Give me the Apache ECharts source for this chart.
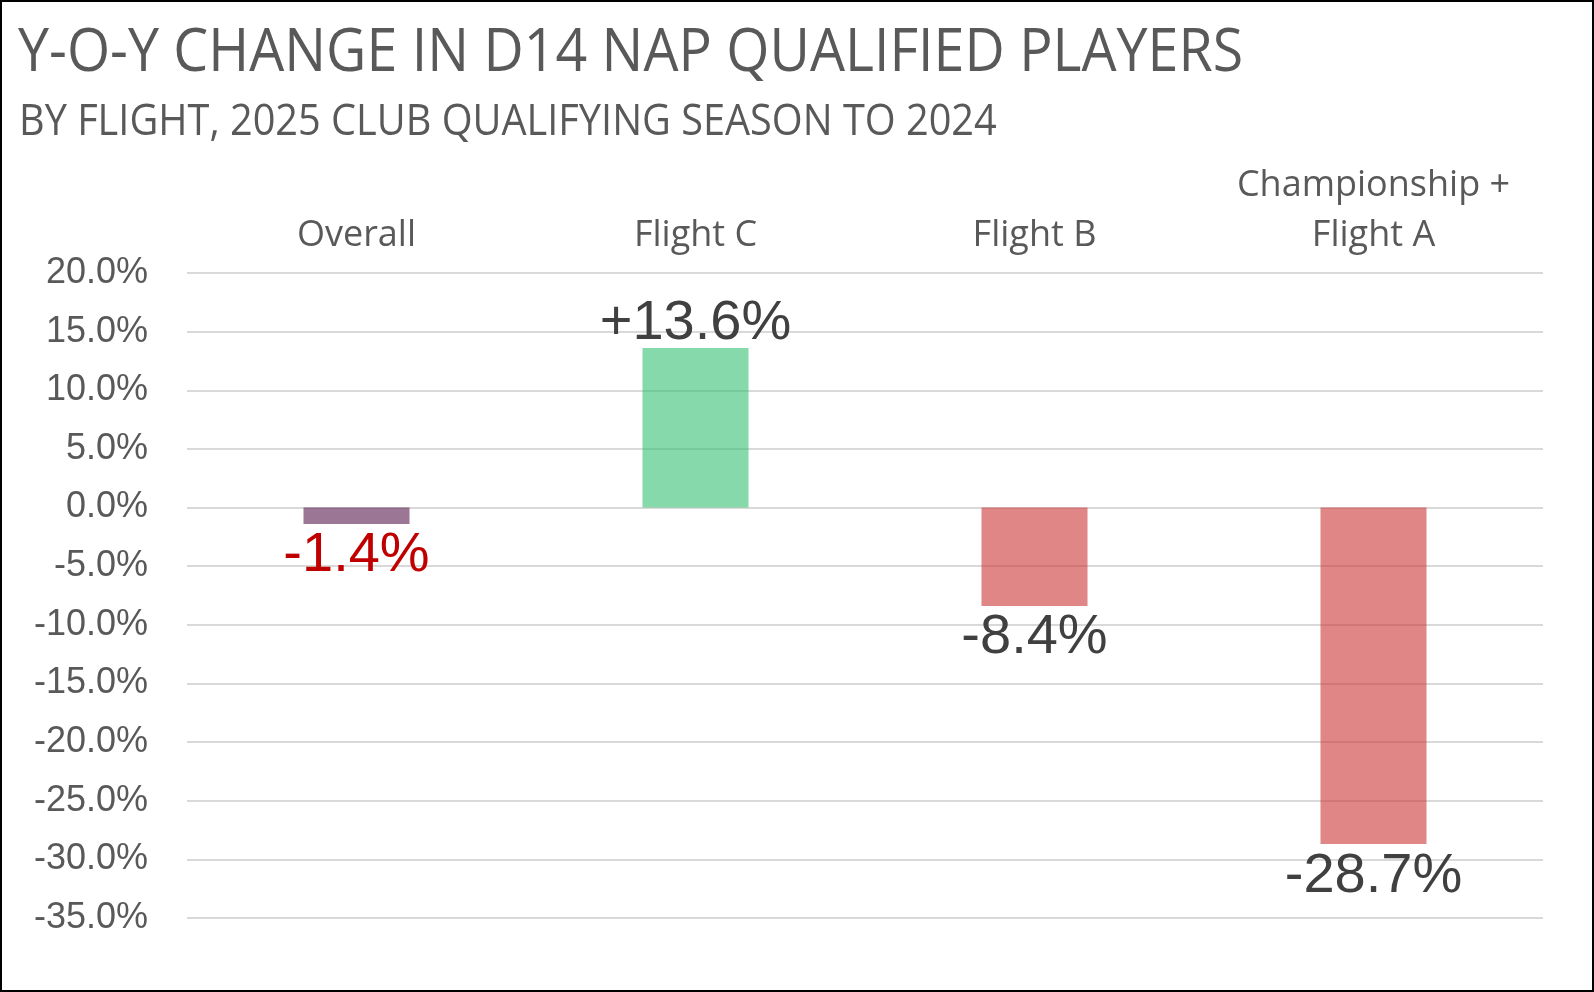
<!DOCTYPE html>
<html>
<head>
<meta charset="utf-8">
<script src="https://cdn.jsdelivr.net/npm/echarts@6/dist/echarts.min.js"></script>
<style>
  html, body { margin: 0; padding: 0; background: #fff; }
  #chart { width: 1594px; height: 992px; }
</style>
</head>
<body>
<div id="chart"></div>
<script>
// flights and their y-o-y change (percent)
const categories = ['Overall', 'Flight C', 'Flight B', 'Championship +\nFlight A'];
const changes = [-1.4, 13.6, -8.4, -28.7];

// colours per bar / label
const barColors = ['rgba(88,28,78,0.6)', 'rgba(53,192,115,0.6)', 'rgba(203,53,53,0.6)', 'rgba(203,53,53,0.6)'];
const labelColors = ['#C00000', '#404040', '#404040', '#404040'];

const sans = '"Open Sans", sans-serif';
const arial = '"Liberation Sans", Arial, sans-serif';

const chart = echarts.init(document.getElementById('chart'), null, { renderer: 'canvas' });

chart.setOption({
  backgroundColor: '#fff',
  animation: false,
  // titles drawn as graphic text so they can be condensed a little
  graphic: [
    {
      type: 'text', x: 18, y: 24, scaleX: 0.925,
      style: {
        text: 'Y-O-Y CHANGE IN D14 NAP QUALIFIED PLAYERS',
        font: '60px ' + sans, fill: '#595959', verticalAlign: 'top'
      }
    },
    {
      type: 'text', x: 19, y: 101, scaleX: 0.923,
      style: {
        text: 'BY FLIGHT, 2025 CLUB QUALIFYING SEASON TO 2024',
        font: '43px ' + sans, fill: '#595959', verticalAlign: 'top'
      }
    },
    {
      type: 'rect',
      shape: { x: 1, y: 1, width: 1592, height: 990 },
      style: { fill: 'none', stroke: '#000', lineWidth: 2 },
      z: 100
    }
  ],
  grid: { left: 187, right: 51, top: 273, bottom: 74 },
  xAxis: {
    type: 'category',
    position: 'top',
    data: categories,
    axisLine: { show: false },
    axisTick: { show: false },
    axisLabel: {
      color: '#595959', fontFamily: sans, fontSize: 36,
      lineHeight: 50, margin: 12, interval: 0
    }
  },
  yAxis: {
    type: 'value',
    min: -35, max: 20, interval: 5,
    axisLine: { show: false },
    axisTick: { show: false },
    splitLine: { lineStyle: { color: '#D9D9D9', width: 2 } },
    axisLabel: {
      color: '#595959', fontFamily: arial, fontSize: 36, margin: 39,
      formatter: v => v.toFixed(1) + '%'
    }
  },
  series: [{
    type: 'bar',
    barWidth: 106,
    data: changes.map((v, i) => ({
      value: v,
      itemStyle: { color: barColors[i] },
      label: {
        show: true,
        position: v >= 0 ? 'top' : 'bottom',
        distance: v >= 0 ? -4 : 4,
        color: labelColors[i],
        fontFamily: arial,
        fontSize: 56,
        formatter: () => (v > 0 ? '+' : '') + v.toFixed(1) + '%'
      }
    }))
  }]
});
</script>
</body>
</html>
